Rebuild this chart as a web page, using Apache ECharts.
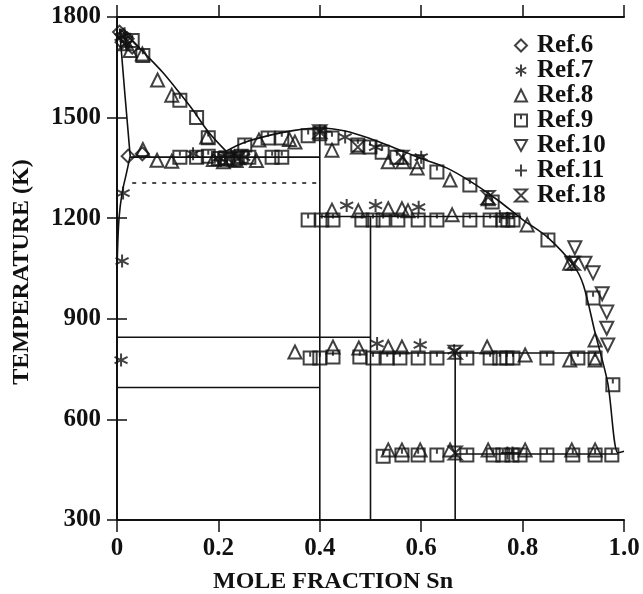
<!DOCTYPE html>
<html>
<head>
<meta charset="utf-8">
<script src="https://cdn.jsdelivr.net/npm/echarts@6/dist/echarts.min.js"></script>
<style>
  html, body { margin: 0; padding: 0; background: #fff; }
  #chart { width: 643px; height: 594px; }
</style>
</head>
<body>
<div id="chart"></div>
<script>
// axis ticks
const xTicks = [0, 0.2, 0.4, 0.6, 0.8, 1.0];
const yTicks = [300, 600, 900, 1200, 1500, 1800];

// phase boundaries [x Sn, T (K)]
const liquidusLeft = [[0.005, 1765], [0.03, 1730], [0.06, 1683], [0.09, 1635], [0.12, 1580], [0.15, 1522], [0.18, 1458], [0.215, 1400]];
const solidusLeft = [[0.005, 1765], [0.015, 1580], [0.026, 1385]];
const solvusLeft = [[0.026, 1385], [0.018, 1330], [0.01, 1275], [0.004, 1200], [0.001, 1100], [0, 1000]];
const liquidusRight = [[0.215, 1400], [0.25, 1425], [0.3, 1447], [0.35, 1462], [0.4, 1469], [0.45, 1460], [0.5, 1437], [0.55, 1408],
  [0.6, 1378], [0.65, 1350], [0.7, 1307], [0.75, 1255], [0.8, 1196], [0.85, 1142], [0.9, 1060], [0.92, 1000],
  [0.943, 858], [0.968, 708], [0.988, 500], [1.0, 505]];
const eutecticHigh = [[0.026, 1382], [0.4, 1382]];
const dashedLine = [[0.03, 1305], [0.4, 1305]];
const line845 = [[0, 845], [0.5, 845]];
const line695 = [[0, 695], [0.4, 695]];
const line1205 = [[0.4, 1205], [0.797, 1205]];
const line798 = [[0.5, 798], [0.952, 798]];
const line497 = [[0.667, 497], [0.988, 497]];
const vert40 = [[0.4, 1469], [0.4, 300]];
const vert50 = [[0.5, 1205], [0.5, 300]];
const vert67 = [[0.667, 798], [0.667, 300]];

// measurements
const ref6 = [[0.005, 1755], [0.012, 1745], [0.02, 1735], [0.01, 1725], [0.03, 1710], [0.022, 1385], [0.05, 1392]];
const ref7 = [[0.008, 1740], [0.018, 1720], [0.15, 1392], [0.2, 1380], [0.225, 1388], [0.25, 1382], [0.4, 1460], [0.45, 1442],
  [0.51, 1412], [0.6, 1382], [0.453, 1238], [0.51, 1238], [0.595, 1233], [0.513, 826], [0.598, 822], [0.665, 805],
  [0.012, 1275], [0.01, 1072], [0.008, 777]];
const ref8 = [[0.026, 1700], [0.05, 1690], [0.08, 1612], [0.108, 1567], [0.177, 1442],
  [0.051, 1405], [0.079, 1373], [0.108, 1370], [0.19, 1375], [0.21, 1368], [0.235, 1372], [0.275, 1372],
  [0.28, 1433], [0.34, 1435], [0.351, 1427], [0.424, 1403], [0.535, 1368], [0.564, 1368], [0.592, 1350], [0.657, 1314],
  [0.732, 1258], [0.809, 1180], [0.893, 1066], [0.943, 837],
  [0.424, 1224], [0.476, 1222], [0.535, 1228], [0.562, 1228], [0.574, 1222], [0.661, 1210],
  [0.351, 801], [0.426, 816], [0.477, 813], [0.535, 816], [0.562, 816], [0.73, 816], [0.805, 792], [0.893, 777], [0.943, 777],
  [0.535, 509], [0.562, 509], [0.598, 509], [0.657, 509], [0.732, 509], [0.805, 509], [0.897, 509], [0.943, 509]];
const ref9 = [[0.03, 1730], [0.051, 1685], [0.124, 1552], [0.157, 1500], [0.18, 1440],
  [0.124, 1382], [0.157, 1382], [0.18, 1385], [0.2, 1378], [0.215, 1380], [0.23, 1376], [0.245, 1385], [0.26, 1382],
  [0.306, 1382], [0.325, 1382], [0.252, 1418], [0.298, 1439], [0.325, 1439], [0.377, 1446], [0.4, 1452], [0.424, 1439],
  [0.475, 1418], [0.499, 1412], [0.523, 1397], [0.552, 1382], [0.592, 1368], [0.631, 1338], [0.696, 1299], [0.74, 1248],
  [0.85, 1135], [0.939, 962], [0.978, 703],
  [0.377, 1195], [0.404, 1195], [0.426, 1195], [0.483, 1195], [0.505, 1195], [0.525, 1195], [0.554, 1195], [0.594, 1195],
  [0.631, 1195], [0.696, 1195], [0.736, 1195], [0.761, 1195], [0.771, 1195], [0.781, 1195],
  [0.381, 783], [0.4, 783], [0.426, 786], [0.479, 786], [0.505, 783], [0.533, 783], [0.558, 783], [0.594, 783],
  [0.631, 783], [0.69, 783], [0.736, 783], [0.755, 783], [0.769, 783], [0.781, 783], [0.848, 783], [0.909, 783], [0.943, 783],
  [0.525, 490], [0.562, 494], [0.594, 494], [0.631, 494], [0.69, 494], [0.742, 494], [0.761, 494], [0.779, 494],
  [0.795, 494], [0.848, 494], [0.899, 494], [0.943, 494], [0.976, 494]];
const ref10 = [[0.903, 1112], [0.897, 1066], [0.923, 1066], [0.939, 1037], [0.957, 975], [0.966, 920], [0.966, 872], [0.968, 822]];
const ref11 = [[0.015, 1750], [0.205, 1372], [0.232, 1386], [0.41, 1458], [0.755, 1205], [0.77, 1200], [0.77, 500], [0.78, 500]];
const ref18 = [[0.015, 1720], [0.22, 1376], [0.24, 1380], [0.4, 1458], [0.475, 1412], [0.562, 1382], [0.732, 1262],
  [0.9, 1066], [0.667, 800], [0.667, 500]];

const serif = 'Liberation Serif';
const black = '#111';

const markers = [
  { name: 'Ref.6', data: ref6, symbol: 'diamond' },
  { name: 'Ref.7', data: ref7, symbol: 'path://M5,0V10M0.7,2.5L9.3,7.5M0.7,7.5L9.3,2.5' },
  { name: 'Ref.8', data: ref8, symbol: 'triangle' },
  { name: 'Ref.9', data: ref9, symbol: 'path://M0,0H10V10H0ZM5,0V4' },
  { name: 'Ref.10', data: ref10, symbol: 'path://M0,0H10L5,9Z' },
  { name: 'Ref.11', data: ref11, symbol: 'path://M5,0V10M0,5H10' },
  { name: 'Ref.18', data: ref18, symbol: 'path://M0,0H10L0,10H10Z' }
];

const lineSeries = (data, opts = {}) => ({
  type: 'line',
  data: data,
  showSymbol: false,
  symbol: 'none',
  smooth: opts.smooth || false,
  silent: true,
  z: 1,
  lineStyle: { color: black, width: 1.6, type: opts.dashed ? [4, 6] : 'solid' }
});

const tick = len => ({ show: true, inside: false, length: len, lineStyle: { color: black, width: 1.5 } });

const chart = echarts.init(document.getElementById('chart'));

const option = {
  animation: false,
  backgroundColor: '#fff',
  grid: { left: 117, right: 19, top: 17, bottom: 74 },
  legend: {
    orient: 'vertical',
    left: 514,
    top: 33,
    itemWidth: 12,
    itemHeight: 12,
    itemGap: 0,
    padding: 0,
    data: markers.map(m => m.name),
    textStyle: { fontFamily: serif, fontWeight: 'bold', fontSize: 25, lineHeight: 25, color: black, padding: [0, 0, 0, 5] }
  },
  xAxis: [{
    type: 'value', min: 0, max: 1, interval: 0.2,
    splitLine: { show: false },
    axisLine: { lineStyle: { color: black, width: 2 } },
    axisTick: tick(12),
    axisLabel: {
      margin: 16, fontFamily: serif, fontWeight: 'bold', fontSize: 25, color: black,
      formatter: v => v === 0 ? '0' : v.toFixed(1)
    }
  }, {
    type: 'value', min: 0, max: 1, interval: 0.2, position: 'top',
    splitLine: { show: false },
    axisLine: { show: true, lineStyle: { color: black, width: 2 } },
    axisTick: tick(12),
    axisLabel: { show: false }
  }],
  yAxis: [{
    type: 'value', min: 300, max: 1800, interval: 300,
    splitLine: { show: false },
    axisLine: { lineStyle: { color: black, width: 2 } },
    axisTick: tick(10),
    axisLabel: { margin: 16, fontFamily: serif, fontWeight: 'bold', fontSize: 25, color: black, formatter: v => String(v) }
  }, {
    type: 'value', min: 300, max: 1800, interval: 300, position: 'right',
    splitLine: { show: false },
    axisLine: { show: true, lineStyle: { color: black, width: 2 } },
    axisTick: tick(10),
    axisLabel: { show: false }
  }],
  graphic: [{
    type: 'text', x: 333, y: 582,
    style: { text: 'MOLE FRACTION Sn', fill: black, font: 'bold 24px "Liberation Serif"', textAlign: 'center', textVerticalAlign: 'middle' }
  }, {
    type: 'text', x: 22, y: 272, rotation: Math.PI / 2,
    style: { text: 'TEMPERATURE (K)', fill: black, font: 'bold 24px "Liberation Serif"', textAlign: 'center', textVerticalAlign: 'middle' }
  }],
  series: [
    lineSeries(liquidusLeft, { smooth: 0.3 }),
    lineSeries(solidusLeft),
    lineSeries(solvusLeft, { smooth: 0.3 }),
    lineSeries(liquidusRight, { smooth: 0.3 }),
    lineSeries(eutecticHigh),
    lineSeries(dashedLine, { dashed: true }),
    lineSeries(line845),
    lineSeries(line695),
    lineSeries(line1205),
    lineSeries(line798),
    lineSeries(line497),
    lineSeries(vert40),
    lineSeries(vert50),
    lineSeries(vert67)
  ].concat(markers.map(m => ({
    type: 'scatter',
    name: m.name,
    data: m.data,
    symbol: m.symbol,
    symbolSize: 13,
    z: 3,
    itemStyle: { color: 'rgba(255,255,255,0)', borderColor: black, borderWidth: 2 }
  })))
};

chart.setOption(option);
</script>
</body>
</html>
